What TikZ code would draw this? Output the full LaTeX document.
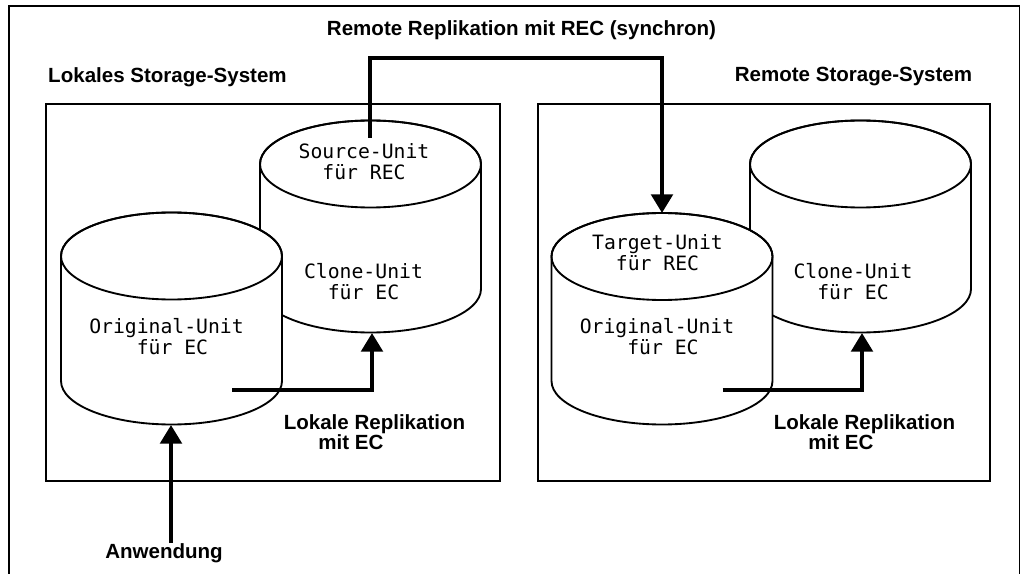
\documentclass[tikz,border=0pt]{standalone}
\usepackage{fontspec}
\setmainfont{Liberation Sans}
\newfontfamily\unitfont{DejaVu Sans Mono}
\usetikzlibrary{arrows.meta}

\tikzset{
  frame/.style={line width=1.1pt},
  drum/.style={draw, line width=1.4pt, fill=white},
  flow/.style={line width=3.2pt, -{Triangle[length=14pt,width=16pt]}},
  heading/.style={font=\fontsize{15.4}{15}\selectfont\bfseries, inner sep=0pt, align=left},
  unit/.style={font=\fontsize{14.8}{15.5}\selectfont\unitfont, inner sep=0pt},
}

% cylinder: centre x, centre y of top ellipse, centre y of bottom ellipse
\newcommand\drumat[3]{%
  \path[drum] ({#1-110.5},#2) -- ({#1-110.5},#3)
    arc[start angle=180, end angle=0, x radius=110.5, y radius=43.5]
    -- ({#1+110.5},#2)
    arc[start angle=0, end angle=-180, x radius=110.5, y radius=43.5] -- cycle;
  \draw[line width=1.4pt] (#1,#2) ellipse[x radius=110.5, y radius=43.5];
}

\begin{document}
\begin{tikzpicture}[x=0.75pt,y=-0.75pt]
\useasboundingbox (0,0) rectangle (1025,574);

% outer frame, open at the bottom
\draw[line width=1pt] (9,574) -- (9,6) -- (1019.5,6) -- (1019.5,574);

% storage systems
\draw[frame] (46,104) rectangle (500,481);
\draw[frame] (538,104) rectangle (990,481);

\node[heading] (title) at (521.5,30) {Remote Replikation mit REC (synchron)};
\node[heading] (lokal) at (167.5,77) {Lokales Storage-System};
\node[heading] (remote) at (853.5,77) {Remote Storage-System};

% local system: clone behind, original in front
\drumat{370.5}{164}{289}
\drumat{171.5}{256}{381}
% remote system
\drumat{860.5}{164}{289}
\drumat{662}{256.5}{381}

\node[unit, align=center] (src) at (364,161.5) {Source-Unit\\für REC};
\node[unit, align=center] (lclone) at (363.5,281.5) {Clone-Unit\\für EC};
\node[unit, align=left] (lorig) at (166.5,338.5) {Original-Unit\\\phantom{Orig}für EC};

\node[unit, align=center] (tgt) at (657.5,252.5) {Target-Unit\\für REC};
\node[unit, align=center] (rclone) at (853,281.5) {Clone-Unit\\für EC};
\node[unit, align=left] (rorig) at (657,338.5) {Original-Unit\\\phantom{Orig}für EC};

\node[heading] (lrep) at (374.5,432) {Lokale Replikation\\\hspace*{26pt}mit EC};
\node[heading] (rrep) at (864.5,432) {Lokale Replikation\\\hspace*{26pt}mit EC};
\node[heading] (app) at (164,553) {Anwendung};

% connector end points
\coordinate (srcstart) at (370,138);
\coordinate (tgttop) at (662,213);
\coordinate (lstart) at (232,390);
\coordinate (lclonebot) at (372,333);
\coordinate (rstart) at (722.5,390);
\coordinate (rclonebot) at (862,333);
\coordinate (appstart) at (171,543);
\coordinate (lorigbot) at (171,425);

\draw[flow] (srcstart) -- ++(0,-80) -| (tgttop);
\draw[flow] (lstart) -| (lclonebot);
\draw[flow] (rstart) -| (rclonebot);
\draw[flow] (appstart) -- (lorigbot);
\end{tikzpicture}
\end{document}
